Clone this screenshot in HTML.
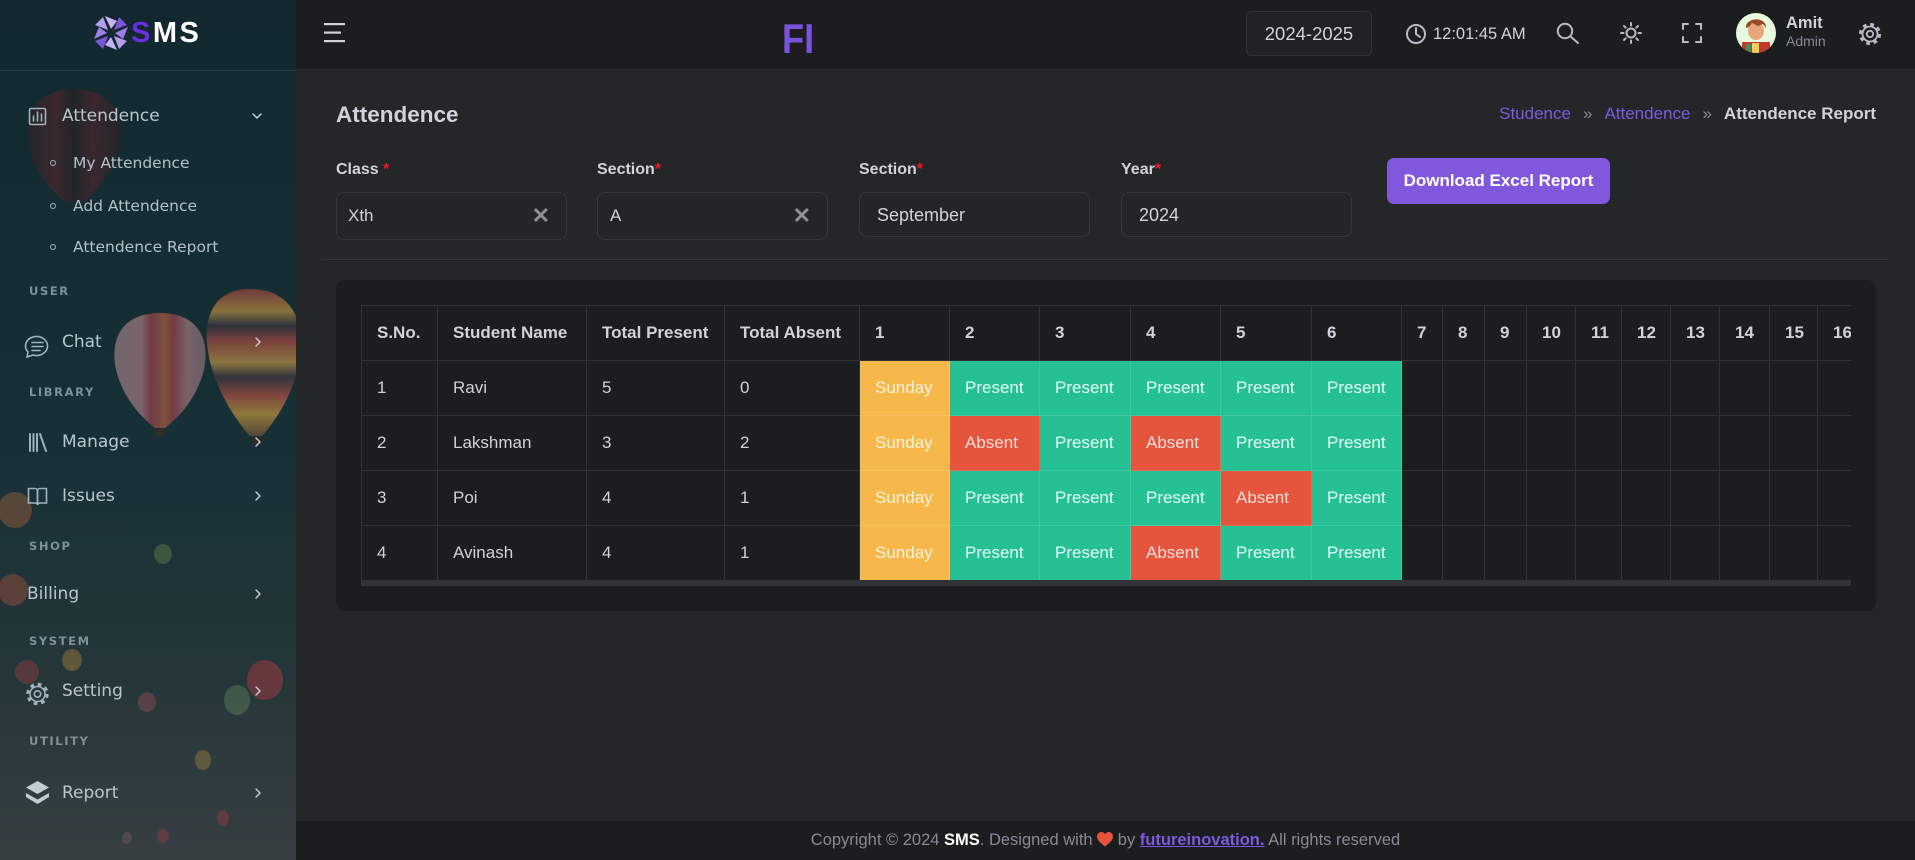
<!DOCTYPE html>
<html><head><meta charset="utf-8">
<style>
*{box-sizing:border-box}
body{margin:0;width:1915px;height:860px;overflow:hidden;background:#252628;font-family:"Liberation Sans",sans-serif;position:relative;color:#ced4da}
.a{position:absolute;white-space:nowrap}
.sbt{font-family:"DejaVu Sans","Liberation Sans",sans-serif;color:#b9c6ce;font-size:17px;line-height:20px}
.sub{font-family:"DejaVu Sans","Liberation Sans",sans-serif;color:#b3c0c8;font-size:15.5px;line-height:20px}
.sec{font-family:"DejaVu Sans","Liberation Sans",sans-serif;color:#7f9098;font-size:11.5px;font-weight:bold;letter-spacing:1.6px;line-height:14px}
.lbl{font-size:16px;font-weight:bold;line-height:16px;color:#ced4da}
.lbl i{color:#f21c1c;font-style:normal}
.inp{background:#232527;border:1px solid #36383b;border-radius:8px}
.inp span{position:absolute;top:50%;transform:translateY(-50%);line-height:20px}
table{border-collapse:collapse;table-layout:fixed;width:2190px}
td,th{border:1px solid #313235;height:55px;padding:0 15px;white-space:nowrap;font-size:17px;text-align:left;vertical-align:middle;overflow:hidden;color:#ced4da}
th{font-weight:bold}
td.y{background:#f7b84b;color:#fff4de;border-color:#f8c066}
td.g{background:#26c095;color:#e4fff4;border-color:#3fcaa3}
td.r{background:#e5553e;color:#ffddd6;border-color:#e96a55}
</style></head><body>

<!-- Sidebar -->
<div class="a" style="left:0;top:0;width:296px;height:860px;overflow:hidden">
<svg width="296" height="860" viewBox="0 0 296 860" style="position:absolute;left:0;top:0">
<defs>
<linearGradient id="sbg" x1="0" y1="0" x2="0" y2="1">
<stop offset="0" stop-color="#12282e"/><stop offset="0.5" stop-color="#163036"/><stop offset="0.78" stop-color="#243639"/><stop offset="1" stop-color="#373f43"/>
</linearGradient>
<linearGradient id="b1" x1="0" y1="0" x2="1" y2="0">
<stop offset="0" stop-color="#9a7f86"/><stop offset="0.3" stop-color="#a57a80"/><stop offset="0.4" stop-color="#9c3f4c"/><stop offset="0.55" stop-color="#a8603f"/><stop offset="0.65" stop-color="#9c3f4c"/><stop offset="0.8" stop-color="#a07a80"/><stop offset="1" stop-color="#8c6f76"/>
</linearGradient>
<linearGradient id="b2" x1="0" y1="0" x2="0" y2="1">
<stop offset="0" stop-color="#8f3e40"/><stop offset="0.15" stop-color="#ad8a3f"/><stop offset="0.25" stop-color="#34323c"/><stop offset="0.35" stop-color="#9c4540"/><stop offset="0.5" stop-color="#b08b43"/><stop offset="0.6" stop-color="#3a3640"/><stop offset="0.72" stop-color="#a24c42"/><stop offset="0.85" stop-color="#b5903f"/><stop offset="1" stop-color="#6b4f3a"/>
</linearGradient>
<linearGradient id="b3" x1="0" y1="0" x2="1" y2="0">
<stop offset="0" stop-color="#2b2326"/><stop offset="0.3" stop-color="#4a262c"/><stop offset="0.5" stop-color="#262426"/><stop offset="0.7" stop-color="#4a262c"/><stop offset="1" stop-color="#2b2326"/>
</linearGradient>
</defs>
<rect width="296" height="860" fill="url(#sbg)"/>
<!-- balloons -->
<path d="M74,89 C135,89 135,160 82,203 L66,203 C13,160 13,89 74,89 Z" fill="url(#b3)" opacity="0.7"/>
<path d="M160,313 C225,313 215,390 165,428 L155,428 C105,390 95,313 160,313 Z" fill="url(#b1)" opacity="0.7"/>
<rect x="155" y="429" width="9" height="8" fill="#3a2a22" opacity="0.8"/>
<path d="M250,289 C320,289 312,380 262,436 L250,436 C200,380 185,289 250,289 Z" fill="url(#b2)" opacity="0.75"/>
<rect x="252" y="437" width="9" height="8" fill="#3a2a22" opacity="0.8"/>
<ellipse cx="15" cy="510" rx="17" ry="18" fill="#8a5a3a" opacity="0.55"/>
<ellipse cx="13" cy="590" rx="15" ry="16" fill="#8b4a3a" opacity="0.55"/>
<ellipse cx="163" cy="554" rx="9" ry="10" fill="#5b7a4a" opacity="0.5"/>
<ellipse cx="72" cy="660" rx="10" ry="11" fill="#9a7a3a" opacity="0.5"/>
<ellipse cx="27" cy="672" rx="12" ry="12" fill="#8a3a40" opacity="0.5"/>
<ellipse cx="147" cy="702" rx="9" ry="10" fill="#8a4a50" opacity="0.5"/>
<ellipse cx="265" cy="680" rx="18" ry="20" fill="#9a3a3f" opacity="0.55"/>
<ellipse cx="237" cy="700" rx="13" ry="15" fill="#5a7a5a" opacity="0.5"/>
<ellipse cx="203" cy="760" rx="8" ry="10" fill="#a08040" opacity="0.45"/>
<ellipse cx="223" cy="818" rx="6" ry="8" fill="#9a3a45" opacity="0.45"/>
<ellipse cx="163" cy="836" rx="6" ry="7" fill="#9a3a45" opacity="0.4"/>
<ellipse cx="127" cy="838" rx="5" ry="6" fill="#7a5a5a" opacity="0.4"/>
<line x1="0" y1="70.5" x2="296" y2="70.5" stroke="#2a4046" stroke-width="1"/>
<!-- logo -->
<g transform="translate(111,33)">
<polygon points="0,-4 -6,-17 6,-12" fill="#c7b5f3"/>
<polygon points="4,0 17,-6 12,6" fill="#9c7fe6"/>
<polygon points="0,4 6,17 -6,12" fill="#c7b5f3"/>
<polygon points="-4,0 -17,6 -12,-6" fill="#9c7fe6"/>
<polygon points="3,-3 8,-16 16,-8" fill="#7b55d8"/>
<polygon points="3,3 16,8 8,16" fill="#b59ef0"/>
<polygon points="-3,3 -8,16 -16,8" fill="#7b55d8"/>
<polygon points="-3,-3 -16,-8 -8,-16" fill="#b59ef0"/>
<circle r="4" fill="#16282e"/>
</g>
<!-- icons -->
<g fill="none" stroke="#9fb1ba" stroke-width="1.6" stroke-linecap="round">
<rect x="29.5" y="108.5" width="16" height="16" rx="1.5"/>
<line x1="33.5" y1="121" x2="33.5" y2="116"/><line x1="37.5" y1="121" x2="37.5" y2="112"/><line x1="41.5" y1="121" x2="41.5" y2="114"/>
<path d="M28,352 A11,9.5 0 1 1 33,355 L27,357 Z"/>
<line x1="32" y1="342.5" x2="43" y2="342.5"/><line x1="32" y1="346.5" x2="43" y2="346.5"/><line x1="32" y1="350.5" x2="40" y2="350.5"/>
<g stroke-width="2"><line x1="30" y1="434" x2="30" y2="451"/><line x1="33.5" y1="434" x2="33.5" y2="451"/><line x1="37" y1="434" x2="37" y2="451"/><line x1="40" y1="434" x2="46" y2="451"/></g>
<path d="M28.5,488.5 H35 A2.5,2.5 0 0 1 37.5,491 V505 A2.5,2.5 0 0 0 35,503 H28.5 Z"/>
<path d="M46.5,488.5 H40 A2.5,2.5 0 0 0 37.5,491 V505 A2.5,2.5 0 0 1 40,503 H46.5 Z"/>
<circle cx="37.5" cy="694" r="9.5" stroke-width="3.5" stroke-dasharray="3.7 3.75" stroke-linecap="butt"/>
<circle cx="37.5" cy="694" r="7.5"/>
<circle cx="37.5" cy="694" r="3.2"/>
</g>
<polygon points="37.5,781 49,787.5 37.5,794 26,787.5" fill="#c3ced4"/>
<polygon points="26,793 37.5,799.5 49,793 49,797 37.5,804 26,797" fill="#c3ced4"/>
<!-- chevrons -->
<g fill="none" stroke="#c3ced4" stroke-width="1.5" stroke-linecap="round" stroke-linejoin="round">
<polyline points="253,114 257,118 261,114"/>
<polyline points="256,338 260,342 256,346"/>
<polyline points="256,438 260,442 256,446"/>
<polyline points="256,492 260,496 256,500"/>
<polyline points="256,590 260,594 256,598"/>
<polyline points="256,687 260,691 256,695"/>
<polyline points="256,789 260,793 256,797"/>
</g>
<g fill="none" stroke="#8a9aa2" stroke-width="1.2">
<circle cx="53" cy="163" r="2.5"/><circle cx="53" cy="206" r="2.5"/><circle cx="53" cy="247" r="2.5"/>
</g>
</svg>
<div class="a" style="left:131px;top:17px;font-size:29px;font-weight:bold;line-height:32px;letter-spacing:2.5px;color:#fff"><span style="color:#6b2fe3">S</span>MS</div>
<div class="a sbt" style="left:62px;top:106px">Attendence</div>
<div class="a sub" style="left:73px;top:153px">My Attendence</div>
<div class="a sub" style="left:73px;top:196px">Add Attendence</div>
<div class="a sub" style="left:73px;top:237px">Attendence Report</div>
<div class="a sec" style="left:29px;top:284px">USER</div>
<div class="a sbt" style="left:62px;top:332px">Chat</div>
<div class="a sec" style="left:29px;top:385px">LIBRARY</div>
<div class="a sbt" style="left:62px;top:432px">Manage</div>
<div class="a sbt" style="left:62px;top:486px">Issues</div>
<div class="a sec" style="left:29px;top:539px">SHOP</div>
<div class="a sbt" style="left:27px;top:584px">Billing</div>
<div class="a sec" style="left:29px;top:634px">SYSTEM</div>
<div class="a sbt" style="left:62px;top:681px">Setting</div>
<div class="a sec" style="left:29px;top:734px">UTILITY</div>
<div class="a sbt" style="left:62px;top:783px">Report</div>
</div>

<!-- Header -->
<div class="a" style="left:296px;top:0;width:1619px;height:70px;background:#1c1d1f;border-bottom:1px solid #2c2d30"></div>
<svg class="a" style="left:296px;top:0" width="1619" height="70" viewBox="296 0 1619 70">
<g fill="#ced4da"><rect x="324" y="23" width="21" height="2.2"/><rect x="324" y="31.5" width="17" height="2.2"/><rect x="324" y="40" width="21" height="2.2"/></g>
<rect x="1246.5" y="11.5" width="125" height="44" rx="5" fill="#202224" stroke="#303235"/>
<g fill="none" stroke="#b5bcc4" stroke-width="2" stroke-linecap="round">
<circle cx="1416" cy="34" r="9"/><polyline points="1416,28 1416,34 1420,37"/>
<circle cx="1565" cy="31" r="7.2"/><line x1="1570.5" y1="36.5" x2="1578" y2="43"/>
<circle cx="1631" cy="33" r="4.5"/>
<line x1="1631" y1="23" x2="1631" y2="25.5"/><line x1="1631" y1="40.5" x2="1631" y2="43"/><line x1="1621" y1="33" x2="1623.5" y2="33"/><line x1="1638.5" y1="33" x2="1641" y2="33"/>
<line x1="1624" y1="26" x2="1625.7" y2="27.7"/><line x1="1636.3" y1="38.3" x2="1638" y2="40"/><line x1="1638" y1="26" x2="1636.3" y2="27.7"/><line x1="1625.7" y1="38.3" x2="1624" y2="40"/>
<polyline points="1683,29 1683,24 1688,24"/><polyline points="1696,24 1701,24 1701,29"/><polyline points="1701,37 1701,42 1696,42"/><polyline points="1688,42 1683,42 1683,37"/>
<circle cx="1870" cy="34" r="9.5" stroke-width="3.2" stroke-dasharray="3.7 3.76" stroke-linecap="butt"/>
<circle cx="1870" cy="34" r="7.5" stroke-width="1.8"/><circle cx="1870" cy="34" r="3.2" stroke-width="1.8"/>
</g>
<clipPath id="av"><circle cx="1756" cy="33" r="20"/></clipPath>
<g clip-path="url(#av)">
<rect x="1736" y="13" width="40" height="40" fill="#e6fade"/>
<rect x="1742" y="42" width="28" height="12" fill="#c0392b"/>
<rect x="1752" y="43" width="7" height="11" fill="#e8d35a"/>
<rect x="1746" y="44" width="5" height="10" fill="#3d8f5a"/>
<ellipse cx="1756" cy="31" rx="8" ry="9" fill="#e9a67a"/>
<path d="M1746,28 C1745,17 1767,16 1766,28 L1763,24 L1758,26 L1752,23 L1749,27 Z" fill="#9a4a24"/>
</g>
</svg>
<div class="a" style="left:782px;top:18px;font-size:42px;line-height:42px;font-weight:bold;color:#7a52de;transform:scaleX(0.86);transform-origin:left">FI</div>
<div class="a" style="left:1246px;top:11px;width:126px;height:45px;text-align:center;line-height:45px;font-size:18.5px;color:#ced4da">2024-2025</div>
<div class="a" style="left:1433px;top:24px;font-size:16.5px;line-height:20px;color:#ced4da">12:01:45 AM</div>
<div class="a" style="left:1786px;top:14px;font-size:16.5px;line-height:18px;font-weight:bold;color:#ced4da">Amit</div>
<div class="a" style="left:1786px;top:33px;font-size:14px;line-height:16px;color:#878a99">Admin</div>

<!-- Page title / breadcrumb -->
<div class="a" style="left:336px;top:103px;font-size:22.5px;line-height:24px;font-weight:bold;color:#ced4da">Attendence</div>
<div class="a" style="right:39px;top:104px;font-size:17px;line-height:20px">
<span style="color:#7b5be0">Studence</span><span style="color:#878a99;margin:0 12px">»</span><span style="color:#7b5be0">Attendence</span><span style="color:#878a99;margin:0 12px">»</span><span style="color:#ced4da;font-weight:bold">Attendence Report</span>
</div>

<!-- Filters -->
<div class="a lbl" style="left:336px;top:162px">Class <i>*</i></div>
<div class="a lbl" style="left:597px;top:162px">Section<i>*</i></div>
<div class="a lbl" style="left:859px;top:162px">Section<i>*</i></div>
<div class="a lbl" style="left:1121px;top:162px">Year<i>*</i></div>

<div class="a inp" style="left:336px;top:192px;width:231px;height:48px"><span style="left:11px;font-size:17px">Xth</span><span style="right:16px;font-size:22px;font-weight:bold;color:#8d9095">✕</span></div>
<div class="a inp" style="left:597px;top:192px;width:231px;height:48px"><span style="left:12px;font-size:17px">A</span><span style="right:16px;font-size:22px;font-weight:bold;color:#8d9095">✕</span></div>
<div class="a inp" style="left:859px;top:192px;width:231px;height:45px"><span style="left:17px;font-size:18px">September</span></div>
<div class="a inp" style="left:1121px;top:192px;width:231px;height:45px"><span style="left:17px;font-size:18px">2024</span></div>

<div class="a" style="left:1387px;top:158px;width:223px;height:46px;border-radius:7px;background:#8157dd;color:#fff;font-weight:bold;font-size:17px;line-height:46px;text-align:center">Download Excel Report</div>

<div class="a" style="left:321px;top:259px;width:1568px;height:1px;background:#37383b"></div>

<!-- Card -->
<div class="a" style="left:336px;top:280px;width:1540px;height:331px;border-radius:9px;background:#1c1d1f">
<div class="a" style="left:25px;top:25px;width:1490px;height:281px;overflow:hidden">
<table>
<colgroup>
<col style="width:76px"><col style="width:149px"><col style="width:138px"><col style="width:135px">
<col style="width:90px"><col style="width:90px"><col style="width:91px"><col style="width:90px"><col style="width:91px"><col style="width:90px">
<col style="width:41px"><col style="width:42px"><col style="width:42px"><col style="width:49px"><col style="width:46px"><col style="width:49px"><col style="width:49px"><col style="width:50px"><col style="width:48px"><col style="width:48px">
<col style="width:49px"><col style="width:49px"><col style="width:49px"><col style="width:49px"><col style="width:49px"><col style="width:49px"><col style="width:49px"><col style="width:49px"><col style="width:49px"><col style="width:49px"><col style="width:49px"><col style="width:49px"><col style="width:49px"><col style="width:49px">
</colgroup>
<tr><th>S.No.</th><th>Student Name</th><th>Total Present</th><th>Total Absent</th><th>1</th><th>2</th><th>3</th><th>4</th><th>5</th><th>6</th><th>7</th><th>8</th><th>9</th><th>10</th><th>11</th><th>12</th><th>13</th><th>14</th><th>15</th><th>16</th><th>17</th><th>18</th><th>19</th><th>20</th><th>21</th><th>22</th><th>23</th><th>24</th><th>25</th><th>26</th><th>27</th><th>28</th><th>29</th><th>30</th></tr>
<tr><td>1</td><td>Ravi</td><td>5</td><td>0</td><td class="y">Sunday</td><td class="g">Present</td><td class="g">Present</td><td class="g">Present</td><td class="g">Present</td><td class="g">Present</td><td></td><td></td><td></td><td></td><td></td><td></td><td></td><td></td><td></td><td></td><td></td><td></td><td></td><td></td><td></td><td></td><td></td><td></td><td></td><td></td><td></td><td></td><td></td><td></td></tr>
<tr><td>2</td><td>Lakshman</td><td>3</td><td>2</td><td class="y">Sunday</td><td class="r">Absent</td><td class="g">Present</td><td class="r">Absent</td><td class="g">Present</td><td class="g">Present</td><td></td><td></td><td></td><td></td><td></td><td></td><td></td><td></td><td></td><td></td><td></td><td></td><td></td><td></td><td></td><td></td><td></td><td></td><td></td><td></td><td></td><td></td><td></td><td></td></tr>
<tr><td>3</td><td>Poi</td><td>4</td><td>1</td><td class="y">Sunday</td><td class="g">Present</td><td class="g">Present</td><td class="g">Present</td><td class="r">Absent</td><td class="g">Present</td><td></td><td></td><td></td><td></td><td></td><td></td><td></td><td></td><td></td><td></td><td></td><td></td><td></td><td></td><td></td><td></td><td></td><td></td><td></td><td></td><td></td><td></td><td></td><td></td></tr>
<tr><td>4</td><td>Avinash</td><td>4</td><td>1</td><td class="y">Sunday</td><td class="g">Present</td><td class="g">Present</td><td class="r">Absent</td><td class="g">Present</td><td class="g">Present</td><td></td><td></td><td></td><td></td><td></td><td></td><td></td><td></td><td></td><td></td><td></td><td></td><td></td><td></td><td></td><td></td><td></td><td></td><td></td><td></td><td></td><td></td><td></td><td></td></tr>
</table>
<div class="a" style="left:0;top:275px;width:1490px;height:6px;background:#323336"></div>
</div>
</div>

<!-- Footer -->
<div class="a" style="left:296px;top:821px;width:1619px;height:39px;background:#1c1d1f;text-align:center;line-height:39px;font-size:16.5px;color:#878a99">Copyright © 2024 <b style="color:#fff">SMS</b>. Designed with <svg width="16" height="15" viewBox="0 0 16 15" style="vertical-align:-2px"><path d="M8,14.5 C3,10.5 0,8 0,4.5 C0,2 2,0 4.3,0 C6,0 7.3,1 8,2.3 C8.7,1 10,0 11.7,0 C14,0 16,2 16,4.5 C16,8 13,10.5 8,14.5 Z" fill="#e5533d"/></svg> by <span style="color:#7b5be0;text-decoration:underline;font-weight:bold">futureinovation.</span> All rights reserved</div>

</body></html>
